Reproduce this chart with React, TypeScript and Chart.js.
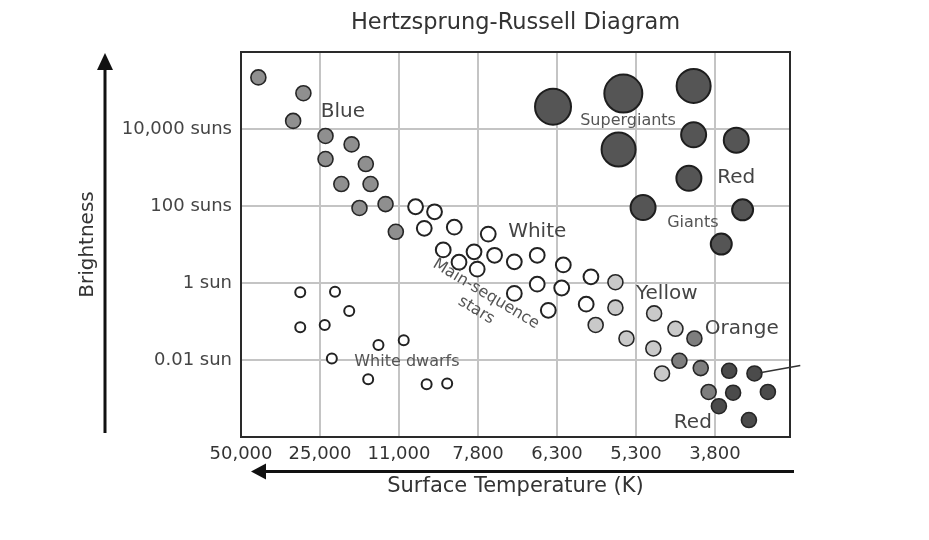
import React, { useEffect, useRef } from "react";
import { Chart, registerables } from "chart.js";

Chart.register(...registerables);

const FONT = "'DejaVu Sans', Verdana, sans-serif";

// x axis: temperature grid index (0 = 50,000 K ... 6 = 3,800 K)
const temperatureTicks = [0, 1, 2, 3, 4, 5, 6];
const temperatureLabels = ["50,000", "25,000", "11,000", "7,800", "6,300", "5,300", "3,800"];
// y axis: log10 of brightness in suns
const brightnessTicks = [-2, 0, 2, 4];
const brightnessLabels = ["0.01 sun", "1 sun", "100 suns", "10,000 suns"];

type P = [number, number];

const blueStars: P[] = [
  [0.22, 5.34], [0.79, 4.93], [0.66, 4.21], [1.07, 3.82], [1.4, 3.6], [1.07, 3.22],
  [1.58, 3.09], [1.27, 2.57], [1.64, 2.57], [1.5, 1.95], [1.83, 2.05], [1.96, 1.33],
];
const whiteStars: P[] = [
  [2.21, 1.98], [2.45, 1.85], [2.32, 1.42], [2.7, 1.45], [3.13, 1.27], [2.56, 0.86],
  [2.76, 0.54], [2.95, 0.81], [2.99, 0.36], [3.21, 0.72], [3.46, 0.55], [3.75, 0.72],
  [4.08, 0.47], [4.43, 0.16], [3.46, -0.27], [3.75, -0.03], [4.06, -0.13], [3.89, -0.71],
  [4.37, -0.55],
];
const yellowStars: P[] = [
  [4.74, 0.02], [4.74, -0.64], [4.49, -1.09], [4.88, -1.44], [5.23, -0.79], [5.5, -1.19],
  [5.22, -1.7], [5.33, -2.35],
];
const orangeStars: P[] = [[5.74, -1.44], [5.55, -2.02], [5.82, -2.21], [5.92, -2.83]];
const redDwarfs: P[] = [
  [6.18, -2.28], [6.5, -2.35], [6.23, -2.85], [6.67, -2.83], [6.05, -3.2], [6.43, -3.56],
];
const whiteDwarfs: P[] = [
  [0.75, -0.24], [1.19, -0.23], [1.37, -0.73], [0.75, -1.15], [1.06, -1.09], [1.74, -1.61],
  [2.06, -1.49], [1.15, -1.96], [1.61, -2.5], [2.35, -2.63], [2.61, -2.61],
];
const supergiants: P[] = [[3.95, 4.58], [4.84, 4.92], [5.73, 5.12], [4.78, 3.47]];
const giants: P[] = [[5.73, 3.85], [6.27, 3.71], [5.67, 2.72], [5.09, 1.96], [6.35, 1.9], [6.08, 1.01]];
const pointerLine: P[] = [[6.57, -2.33], [7.08, -2.14]];

// region labels (text, x, y in data units)
const bigLabels: [string, number, number][] = [
  ["Blue", 1.29, 4.44], ["White", 3.75, 1.33], ["Red", 6.27, 2.74],
  ["Yellow", 5.39, -0.27], ["Orange", 6.34, -1.18], ["Red", 5.72, -3.63],
];
const smallLabels: [string, number, number][] = [
  ["Supergiants", 4.9, 4.21], ["Giants", 5.72, 1.55], ["White dwarfs", 2.1, -2.06],
];
const mainSequenceLabel: [string[], number, number] = [["Main-sequence", "stars"], 3.04, -0.5];

const toXY = (arr: P[]) => arr.map(([x, y]) => ({ x, y }));

const decorPlugin = {
  id: "hrDecor",
  beforeDatasetsDraw(chart: any) {
    const { ctx, chartArea: a } = chart;
    ctx.save();
    ctx.strokeStyle = "#2a2a2a";
    ctx.lineWidth = 2;
    ctx.strokeRect(a.left, a.top, a.right - a.left, a.bottom - a.top);
    ctx.restore();
  },
  afterDatasetsDraw(chart: any) {
    const { ctx } = chart;
    const xs = chart.scales.x;
    const ys = chart.scales.y;
    ctx.save();
    ctx.textAlign = "center";
    ctx.textBaseline = "middle";
    ctx.fillStyle = "#444";
    ctx.font = `20px ${FONT}`;
    bigLabels.forEach(([t, x, y]) => ctx.fillText(t, xs.getPixelForValue(x), ys.getPixelForValue(y)));
    ctx.fillStyle = "#555";
    ctx.font = `16px ${FONT}`;
    smallLabels.forEach(([t, x, y]) => ctx.fillText(t, xs.getPixelForValue(x), ys.getPixelForValue(y)));
    const [lines, mx, my] = mainSequenceLabel;
    ctx.translate(xs.getPixelForValue(mx), ys.getPixelForValue(my));
    ctx.rotate((31 * Math.PI) / 180);
    const lh = 19;
    lines.forEach((t, i) => ctx.fillText(t, 0, (i - (lines.length - 1) / 2) * lh));
    ctx.restore();
  },
  afterDraw(chart: any) {
    const { ctx, chartArea: a } = chart;
    ctx.save();
    ctx.fillStyle = "#111";
    ctx.strokeStyle = "#111";
    ctx.lineWidth = 3;
    // vertical brightness arrow
    const ax = 105;
    ctx.beginPath();
    ctx.moveTo(ax, a.bottom - 4);
    ctx.lineTo(ax, a.top + 12);
    ctx.stroke();
    ctx.beginPath();
    ctx.moveTo(ax, a.top + 1);
    ctx.lineTo(ax - 8, a.top + 18);
    ctx.lineTo(ax + 8, a.top + 18);
    ctx.closePath();
    ctx.fill();
    // horizontal temperature arrow
    const ay = 471.5;
    ctx.beginPath();
    ctx.moveTo(a.right + 4, ay);
    ctx.lineTo(a.left + 20, ay);
    ctx.stroke();
    ctx.beginPath();
    ctx.moveTo(a.left + 10, ay);
    ctx.lineTo(a.left + 25, ay - 8);
    ctx.lineTo(a.left + 25, ay + 8);
    ctx.closePath();
    ctx.fill();
    ctx.restore();
  },
};

const starSet = (label: string, data: P[], bg: string, radius: number | number[], border = "#262626", bw = 1.6) => ({
  label,
  data: toXY(data),
  backgroundColor: bg,
  borderColor: border,
  borderWidth: bw,
  pointRadius: radius,
  pointHoverRadius: radius,
  pointStyle: "circle",
});

export default function App() {
  const ref = useRef<HTMLCanvasElement | null>(null);
  useEffect(() => {
    if (!ref.current) return;
    const chart = new Chart(ref.current, {
      type: "scatter",
      data: {
        datasets: [
          {
            label: "pointer",
            data: toXY(pointerLine),
            showLine: true,
            borderColor: "#333",
            borderWidth: 1.5,
            pointRadius: 0,
            clip: false,
          } as any,
          starSet("Red dwarfs", redDwarfs, "#4b4b4b", 7.5),
          starSet("Orange", orangeStars, "#7e7e7e", 7.5),
          starSet("Yellow", yellowStars, "#c9c9c9", 7.5),
          starSet("Main sequence", whiteStars, "#ffffff", 7.4, "#222", 2),
          starSet("Blue", blueStars, "#8f8f8f", 7.5),
          starSet("White dwarfs", whiteDwarfs, "#ffffff", 5, "#222", 2),
          starSet("Giants", giants, "#555555", [12.5, 12.5, 12.5, 12.5, 10.5, 10.5], "#1e1e1e", 2),
          starSet("Supergiants", supergiants, "#555555", [18, 19, 17, 17], "#1e1e1e", 2),
        ],
      },
      options: {
        animation: false,
        responsive: false,
        events: [],
        layout: { padding: { left: 0, right: 139, top: 0, bottom: 0 } },
        plugins: {
          legend: { display: false },
          tooltip: { enabled: false },
          title: {
            display: true,
            text: "Hertzsprung-Russell Diagram",
            fullSize: false,
            color: "#333",
            font: { family: FONT, size: 22.5, weight: "normal" },
            padding: { top: 10, bottom: 15 },
          },
        },
        scales: {
          x: {
            type: "linear",
            min: 0,
            max: 6.95,
            afterBuildTicks: (scale: any) => {
              scale.ticks = temperatureTicks.map((v) => ({ value: v }));
            },
            afterFit: (scale: any) => {
              scale.height = 103;
            },
            grid: { color: "#c4c4c4", lineWidth: 2, drawTicks: false },
            border: { display: false },
            ticks: {
              autoSkip: false,
              maxRotation: 0,
              padding: 7,
              color: "#333",
              font: { family: FONT, size: 18 },
              callback: (v: any) => {
                const i = temperatureTicks.indexOf(Number(v));
                return i >= 0 ? temperatureLabels[i] : "";
              },
            },
            title: {
              display: true,
              text: "Surface Temperature (K)",
              color: "#333",
              font: { family: FONT, size: 21 },
              padding: { top: 0, bottom: 40.5 },
            },
          },
          y: {
            type: "linear",
            min: -4,
            max: 6,
            afterBuildTicks: (scale: any) => {
              scale.ticks = brightnessTicks.map((v) => ({ value: v }));
            },
            afterFit: (scale: any) => {
              scale.width = 241;
            },
            grid: { color: "#c4c4c4", lineWidth: 2, drawTicks: false },
            border: { display: false },
            ticks: {
              padding: 9,
              color: "#444",
              font: { family: FONT, size: 18 },
              callback: (v: any) => {
                const i = brightnessTicks.indexOf(Number(v));
                return i >= 0 ? brightnessLabels[i] : "";
              },
            },
            title: {
              display: true,
              text: "Brightness",
              color: "#333",
              font: { family: FONT, size: 20 },
              padding: { top: 76, bottom: 0 },
            },
          },
        },
      } as any,
      plugins: [decorPlugin],
    });
    return () => chart.destroy();
  }, []);
  return (
    <div style={{ position: "absolute", left: 0, top: 0, width: 929, height: 540, background: "#fff" }}>
      <canvas ref={ref} width={929} height={540} style={{ display: "block" }} />
    </div>
  );
}
